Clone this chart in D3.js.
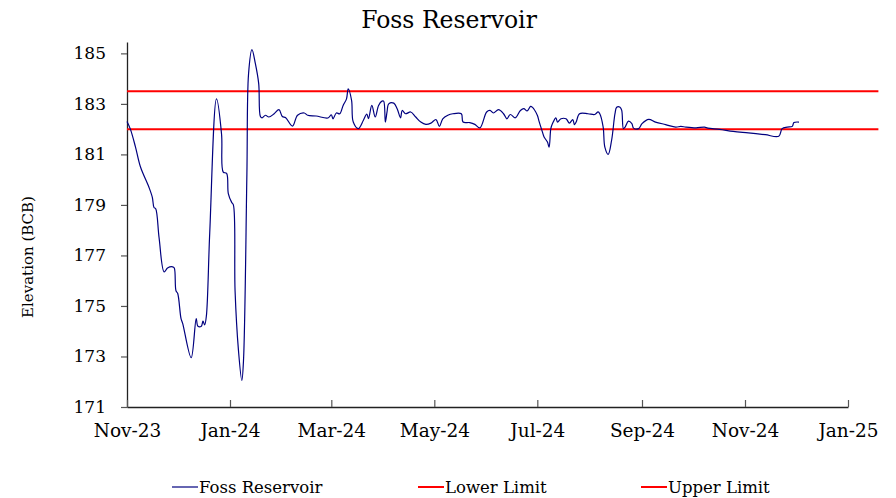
<!DOCTYPE html>
<html>
<head>
<meta charset="utf-8">
<script src="https://cdn.jsdelivr.net/npm/d3@7"></script>
<style>
  body { margin: 0; background: #fff; }
  text { font-family: "DejaVu Serif", serif; fill: #000; }
</style>
</head>
<body>
<div id="chart"></div>
<script>
// elevation readings, Foss Reservoir
const dates = ["2023-11-01","2023-11-03","2023-11-06","2023-11-09","2023-11-14","2023-11-16","2023-11-17","2023-11-18","2023-11-20","2023-11-23","2023-11-25","2023-11-28","2023-11-29","2023-11-30","2023-12-01","2023-12-03","2023-12-04","2023-12-09","2023-12-12","2023-12-13","2023-12-15","2023-12-16","2023-12-17","2023-12-18","2023-12-20","2023-12-24","2023-12-27","2023-12-28","2023-12-30","2023-12-31","2024-01-02","2024-01-03","2024-01-04","2024-01-06","2024-01-08","2024-01-09","2024-01-11","2024-01-12","2024-01-14","2024-01-16","2024-01-18","2024-01-19","2024-01-20","2024-01-22","2024-01-24","2024-01-27","2024-01-30","2024-02-01","2024-02-03","2024-02-07","2024-02-10","2024-02-14","2024-02-16","2024-02-21","2024-02-28","2024-03-01","2024-03-02","2024-03-04","2024-03-06","2024-03-08","2024-03-10","2024-03-11","2024-03-13","2024-03-14","2024-03-17","2024-03-20","2024-03-22","2024-03-23","2024-03-25","2024-03-27","2024-03-29","2024-03-31","2024-04-01","2024-04-02","2024-04-03","2024-04-04","2024-04-07","2024-04-09","2024-04-11","2024-04-12","2024-04-14","2024-04-17","2024-04-20","2024-04-23","2024-04-26","2024-04-29","2024-05-02","2024-05-04","2024-05-06","2024-05-09","2024-05-12","2024-05-17","2024-05-18","2024-05-22","2024-05-25","2024-05-28","2024-06-01","2024-06-03","2024-06-05","2024-06-08","2024-06-11","2024-06-13","2024-06-15","2024-06-18","2024-06-21","2024-06-23","2024-06-25","2024-06-27","2024-06-28","2024-07-01","2024-07-02","2024-07-04","2024-07-05","2024-07-07","2024-07-08","2024-07-09","2024-07-10","2024-07-12","2024-07-13","2024-07-15","2024-07-18","2024-07-20","2024-07-22","2024-07-23","2024-07-24","2024-07-26","2024-07-31","2024-08-04","2024-08-06","2024-08-07","2024-08-09","2024-08-10","2024-08-12","2024-08-14","2024-08-16","2024-08-17","2024-08-19","2024-08-20","2024-08-21","2024-08-22","2024-08-24","2024-08-26","2024-08-27","2024-08-30","2024-09-01","2024-09-05","2024-09-09","2024-09-15","2024-09-21","2024-09-24","2024-09-27","2024-10-03","2024-10-08","2024-10-10","2024-10-17","2024-10-25","2024-11-03","2024-11-13","2024-11-21","2024-11-23","2024-11-26","2024-11-29","2024-11-30","2024-12-03"];
const elevation = [182.3,182.0,181.3,180.5,179.7,179.3,178.9,178.85,177.7,176.35,176.5,176.55,176.5,175.6,175.5,174.5,174.3,172.95,174.5,174.2,174.2,174.4,174.25,174.6,177.9,183.2,181.8,180.3,180.25,179.45,179.1,179.0,175.6,173.25,172.05,172.85,180.2,184.2,185.15,184.6,183.8,182.5,182.45,182.55,182.48,182.6,182.77,182.5,182.45,182.12,182.55,182.64,182.55,182.52,182.44,182.57,182.41,182.64,182.61,182.94,183.2,183.6,183.14,182.28,182.02,182.35,182.6,182.42,182.94,182.48,182.94,183.11,183.11,182.28,182.68,183.0,183.03,182.81,182.45,182.74,182.61,182.68,182.48,182.28,182.19,182.24,182.38,182.11,182.41,182.55,182.61,182.61,182.28,182.26,182.19,182.05,182.68,182.74,182.64,182.77,182.61,182.41,182.58,182.45,182.74,182.81,182.72,182.9,182.87,182.55,182.32,181.89,181.69,181.49,181.29,182.02,182.22,182.45,182.28,182.41,182.41,182.24,182.38,182.18,182.28,182.61,182.61,182.58,182.68,182.61,182.08,181.29,181.0,181.56,182.61,182.87,182.87,182.74,182.02,182.08,182.32,182.22,182.04,182.02,182.22,182.39,182.28,182.18,182.08,182.11,182.08,182.05,182.08,182.04,181.99,181.91,181.85,181.78,181.72,182.02,182.08,182.11,182.26,182.28];

const limitDates = ["2023-11-01","2025-01-19"];
const lowerLimit = [182, 182];
const upperLimit = [183.5, 183.5];

const xTicks = ["2023-11-01","2024-01-01","2024-03-01","2024-05-01","2024-07-01","2024-09-01","2024-11-01","2025-01-01"];
const yTicks = [171,173,175,177,179,181,183,185];

const W = 896, H = 498;
const margin = {left: 127, right: 48, top: 42, bottom: 91};

const parse = d3.utcParse("%Y-%m-%d");
const fmt = d3.utcFormat("%b-%y");

const svg = d3.select("#chart").append("svg")
    .attr("width", W)
    .attr("height", H);

const x = d3.scaleUtc()
    .domain([parse(xTicks[0]), parse(xTicks[xTicks.length - 1])])
    .range([margin.left, W - margin.right]);

const y = d3.scaleLinear()
    .domain([171, 185.45])
    .range([H - margin.bottom, margin.top]);

// title
svg.append("text")
    .attr("x", 449)
    .attr("y", 28)
    .attr("text-anchor", "middle")
    .style("font-size", "23.5px")
    .text("Foss Reservoir");

// y label
svg.append("text")
    .attr("transform", "translate(33,257) rotate(-90)")
    .attr("text-anchor", "middle")
    .style("font-size", "15px")
    .text("Elevation (BCB)");

// axes
var yAxis = svg.append("g")
    .attr("transform", "translate(" + margin.left + ",0)")
    .call(d3.axisLeft(y).tickValues(yTicks).tickSize(6).tickPadding(15).tickSizeOuter(0));

var xAxis = svg.append("g")
    .attr("transform", "translate(0," + (H - margin.bottom) + ")")
    .call(d3.axisBottom(x).tickValues(xTicks.map(parse)).tickFormat(fmt).tickSize(-7).tickPadding(17).tickSizeOuter(0));

[yAxis, xAxis].forEach(function(a){
    a.select(".domain").attr("stroke", "#222").attr("stroke-width", 1.3);
    a.selectAll(".tick line").attr("stroke", "#555").attr("stroke-width", 1.2);
    a.selectAll("text").style("font-family", "DejaVu Serif, serif").attr("fill", "#000");
});
yAxis.selectAll("text").style("font-size", "17px");
xAxis.selectAll("text").style("font-size", "18.5px");

// limits
var lim = d3.line()
    .x(function(d){ return x(d[0]); })
    .y(function(d){ return y(d[1]); });

[lowerLimit, upperLimit].forEach(function(vals){
    svg.append("path")
	.datum(limitDates.map(function(d, i){ return [parse(d), vals[i]]; }))
	.attr("fill", "none")
	.attr("stroke", "#ff0000")
	.attr("stroke-width", 2)
	.attr("d", lim);
});

// reservoir line
var series = dates.map(function(d, i){ return [parse(d), elevation[i]]; });

svg.append("path")
    .datum(series)
    .attr("fill", "none")
    .attr("stroke", "#00007f")
    .attr("stroke-width", 1.2)
    .attr("d", d3.line()
	  .curve(d3.curveCatmullRom.alpha(0.5))
	  .x(function(d){ return x(d[0]); })
	  .y(function(d){ return y(d[1]); }));

// legend
const legendItems = [
    {name: "Foss Reservoir", color: "#00007f", w: 1.2, x: 172},
    {name: "Lower Limit", color: "#ff0000", w: 2, x: 418},
    {name: "Upper Limit", color: "#ff0000", w: 2, x: 641}
];

var lg = svg.selectAll("g.legend")
    .data(legendItems)
    .enter()
    .append("g")
    .classed("legend", true)
    .attr("transform", function(d){ return "translate(" + d.x + ",487)"; });

lg.append("line")
    .attr("x1", 0).attr("x2", 26)
    .attr("stroke", function(d){ return d.color; })
    .attr("stroke-width", function(d){ return d.w; });

lg.append("text")
    .attr("x", 27)
    .attr("y", 6)
    .style("font-size", "16.5px")
    .text(function(d){ return d.name; });
</script>
</body>
</html>
